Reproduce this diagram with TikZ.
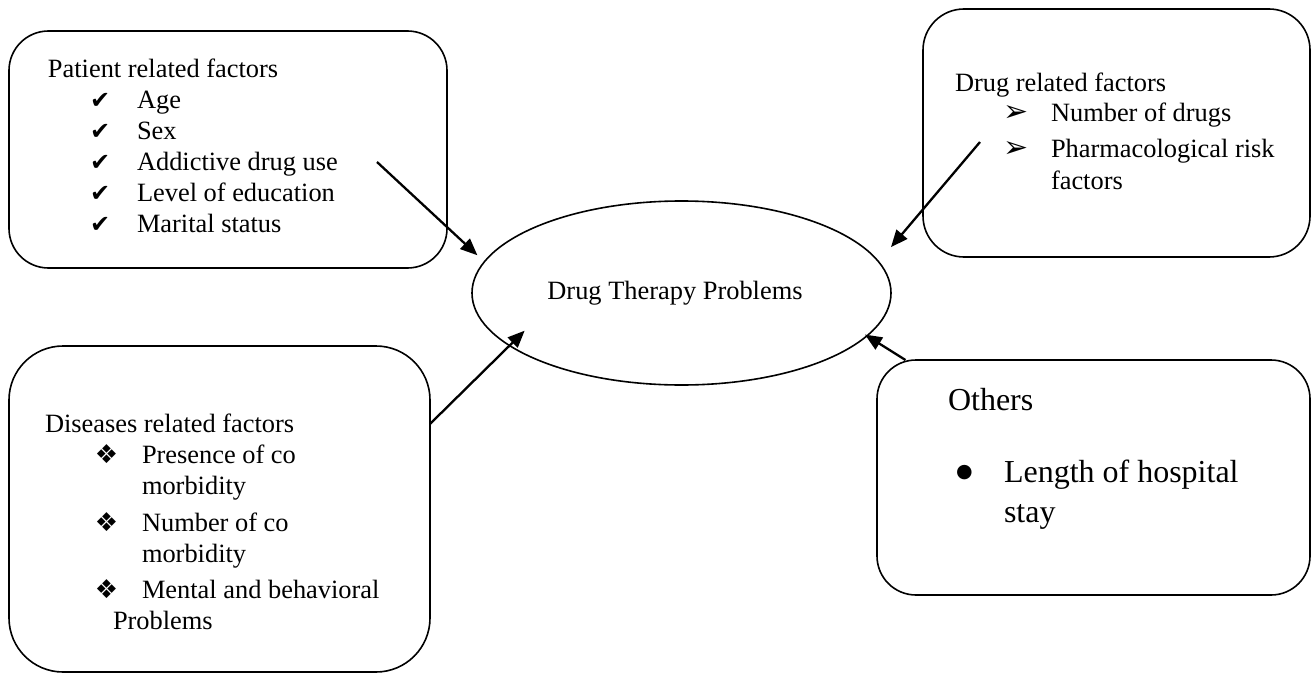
\documentclass[tikz,border=0pt]{standalone}
\usepackage{fontspec}
\setmainfont{Liberation Serif}
\newfontfamily\dingfont{DejaVu Sans}
\usetikzlibrary{%
   arrows.meta,%
   shapes.geometric,%
   positioning%
}
\newcommand{\chkmark}{{\dingfont\fontsize{12}{12}\selectfont ✔}}
\newcommand{\arrmark}{{\dingfont\fontsize{15}{15}\selectfont ➢}}
\newcommand{\diamark}{{\dingfont\fontsize{13}{13}\selectfont ❖}}
\newcommand{\dotmark}{\raisebox{2.2pt}{\dingfont\fontsize{9.5}{9.5}\selectfont ●}}
\newcommand{\boxitem}[3]{\hspace*{#1}\makebox[#2][l]{#3}}

\begin{document}
\begin{tikzpicture}[x=0.5pt,y=-0.5pt,factorbox/.style={
	rectangle,
	draw,
	line width=0.8pt,
	inner sep=0pt,
	outer sep=0pt,
	anchor=north west,
	font=\fontsize{13.2}{15.5}\selectfont
	},problem/.style={
	ellipse,draw,line width=0.8pt,
	minimum width=209.5pt,minimum height=92pt,
	inner sep=0pt,outer sep=0pt,
	font=\fontsize{13.2}{15.5}\selectfont
	},arr/.style={
	-{Triangle[length=8.5pt,width=7pt]},line width=1.15pt
	}
]
\useasboundingbox (0,0) rectangle (1311,674);

% centre
\node (dtp) [problem] at (681.5,293) {Drug Therapy Problems\hspace*{6.5pt}};

% top row
\node (pf) [factorbox, rounded corners=19.75pt] at (9,31) {\parbox[c][118.5pt][t]{219pt}{\raggedright\leftskip=19.5pt\vspace*{12.15pt}%
\strut Patient related factors\\
\boxitem{21pt}{23.5pt}{\chkmark}Age\\
\boxitem{21pt}{23.5pt}{\chkmark}Sex\\
\boxitem{21pt}{23.5pt}{\chkmark}Addictive drug use\\
\boxitem{21pt}{23.5pt}{\chkmark}Level of education\\
\boxitem{21pt}{23.5pt}{\chkmark}Marital status}};
\node (df) [factorbox, rounded corners=20.5pt] at (923,9) {\parbox[c][124pt][t]{193.5pt}{\raggedright\leftskip=16pt\vspace*{30.15pt}%
\strut Drug related factors\\
\boxitem{24pt}{24pt}{\arrmark}Number of drugs\\[2.5pt]
\boxitem{24pt}{24pt}{\arrmark}Pharmacological risk\\
\hspace*{48pt}factors}};

% bottom row
\node (dis) [factorbox, rounded corners=27pt] at (9,346) {\parbox[c][163pt][t]{210.5pt}{\raggedright\leftskip=18pt\vspace*{32.15pt}%
\strut Diseases related factors\\
\boxitem{25pt}{23.5pt}{\diamark}Presence of co\\
\hspace*{48.5pt}morbidity\\[3pt]
\boxitem{25pt}{23.5pt}{\diamark}Number of co\\
\hspace*{48.5pt}morbidity\\[2.5pt]
\boxitem{25pt}{23.5pt}{\diamark}Mental and behavioral\\
\hspace*{34pt}Problems}};
\node (oth) [factorbox, rounded corners=19.5pt, font=\fontsize{16}{20}\selectfont] at (877,360) {\parbox[c][117.5pt][t]{216.5pt}{\raggedright\leftskip=35.5pt\vspace*{11pt}%
\strut Others\\[16pt]
\boxitem{4pt}{24pt}{\dotmark}Length of hospital\\
\hspace*{28pt}stay}};

%(x,y)
\coordinate (pfTail) at (377,162);
\coordinate (dfTail) at (980,142);
\draw[arr, shorten >=4.8pt] (pfTail) -- (dtp.171.25);
\draw[arr, shorten >=9.6pt] (dfTail) -- (dtp.9.03);
\draw[arr, shorten >=-10.6pt] (dis.22.9) -- (dtp.197.75);
\draw[arr, shorten >=-1.2pt] (oth.148.3) -- (dtp.347.6);

\end{tikzpicture}
\end{document}
